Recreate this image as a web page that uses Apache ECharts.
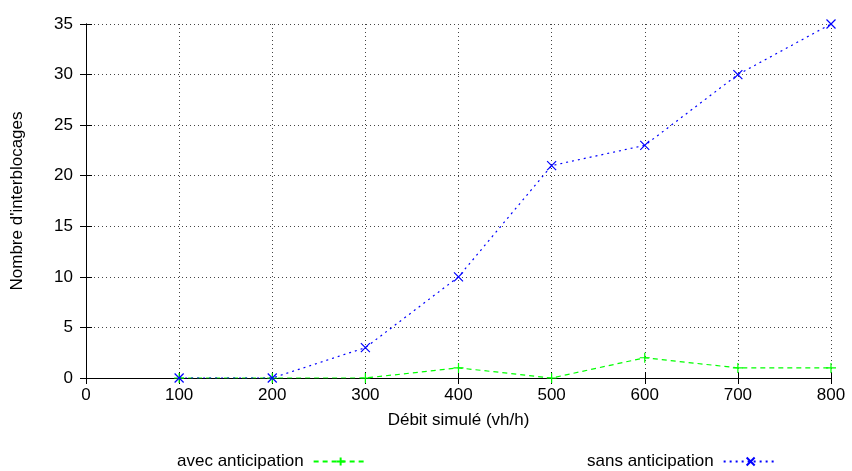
<!DOCTYPE html>
<html>
<head>
<meta charset="utf-8">
<script src="https://cdn.jsdelivr.net/npm/echarts@6/dist/echarts.min.js"></script>
<style>
  html, body { margin: 0; padding: 0; background: #fff; }
  #chart { width: 852px; height: 471px; }
</style>
</head>
<body>
<div id="chart"></div>
<script>
var debits = [100, 200, 300, 400, 500, 600, 700, 800];
var avecAnticipation = [0, 0, 0, 1, 0, 2, 1, 1];
var sansAnticipation = [0, 0, 3, 10, 21, 23, 30, 35];

function pairs(xs, ys) {
  var out = [];
  for (var i = 0; i < xs.length; i++) {
    out.push([xs[i], ys[i]]);
  }
  return out;
}

var font = 'Liberation Sans, Arial, sans-serif';
var plusPath = 'path://M0,5L10,5M5,0L5,10';
var crossPath = 'path://M0,0L10,10M10,0L0,10';

var myChart = echarts.init(document.getElementById('chart'));

var axisCommon = {
  axisLine: { lineStyle: { color: '#000', width: 1 } },
  axisTick: { inside: true, length: 6, lineStyle: { color: '#000' } },
  axisLabel: { color: '#000', fontSize: 17, fontFamily: font },
  splitLine: { show: true, lineStyle: { color: '#444', type: [1, 3], width: 1 } }
};

var option = {
  animation: false,
  backgroundColor: '#fff',
  grid: { left: 86, right: 21, top: 24, bottom: 93 },
  xAxis: [
    Object.assign({}, axisCommon, {
      type: 'value', min: 0, max: 800, interval: 100,
      name: 'Débit simulé (vh/h)', nameLocation: 'middle', nameGap: 34,
      nameTextStyle: { color: '#000', fontSize: 17, fontFamily: font },
      axisLabel: Object.assign({}, axisCommon.axisLabel, { margin: 9 })
    }),
    {
      type: 'value', min: 0, max: 800, interval: 100, position: 'top',
      axisLine: { lineStyle: { color: '#000' } },
      axisTick: { inside: true, length: 6, lineStyle: { color: '#000' } },
      axisLabel: { show: false }, splitLine: { show: false }
    }
  ],
  yAxis: [
    Object.assign({}, axisCommon, {
      type: 'value', min: 0, max: 35, interval: 5,
      name: "Nombre d'interblocages", nameLocation: 'middle', nameGap: 60,
      nameTextStyle: { color: '#000', fontSize: 17, fontFamily: font },
      axisLabel: Object.assign({}, axisCommon.axisLabel, { margin: 13 })
    }),
    {
      type: 'value', min: 0, max: 35, interval: 5, position: 'right',
      axisLine: { show: true, lineStyle: { color: '#000' } },
      axisTick: { show: true, inside: true, length: 6, lineStyle: { color: '#000' } },
      axisLabel: { show: false }, splitLine: { show: false }
    }
  ],
  legend: [
    {
      data: ['avec anticipation'],
      left: 177, top: 453, padding: 0, align: 'right',
      itemWidth: 54, itemHeight: 10,
      textStyle: { color: '#000', fontSize: 17, fontFamily: font, padding: [0, 5, 0, 0] }
    },
    {
      data: ['sans anticipation'],
      left: 587, top: 453, padding: 0, align: 'right',
      itemWidth: 54, itemHeight: 10,
      textStyle: { color: '#000', fontSize: 17, fontFamily: font, padding: [0, 5, 0, 0] }
    }
  ],
  series: [
    {
      name: 'avec anticipation',
      type: 'line',
      data: pairs(debits, avecAnticipation),
      symbol: plusPath, symbolSize: 10,
      itemStyle: { color: 'rgba(0,0,0,0)', borderColor: '#00ff00', borderWidth: 1.2 },
      lineStyle: { color: '#00ff00', width: 1.2, type: [5, 4] },
      z: 2
    },
    {
      name: 'sans anticipation',
      type: 'line',
      data: pairs(debits, sansAnticipation),
      symbol: crossPath, symbolSize: 9,
      itemStyle: { color: 'rgba(0,0,0,0)', borderColor: '#0000ff', borderWidth: 1.2 },
      lineStyle: { color: '#0000ff', width: 1.2, type: [2, 4] },
      z: 3
    }
  ]
};

myChart.setOption(option);
</script>
</body>
</html>
